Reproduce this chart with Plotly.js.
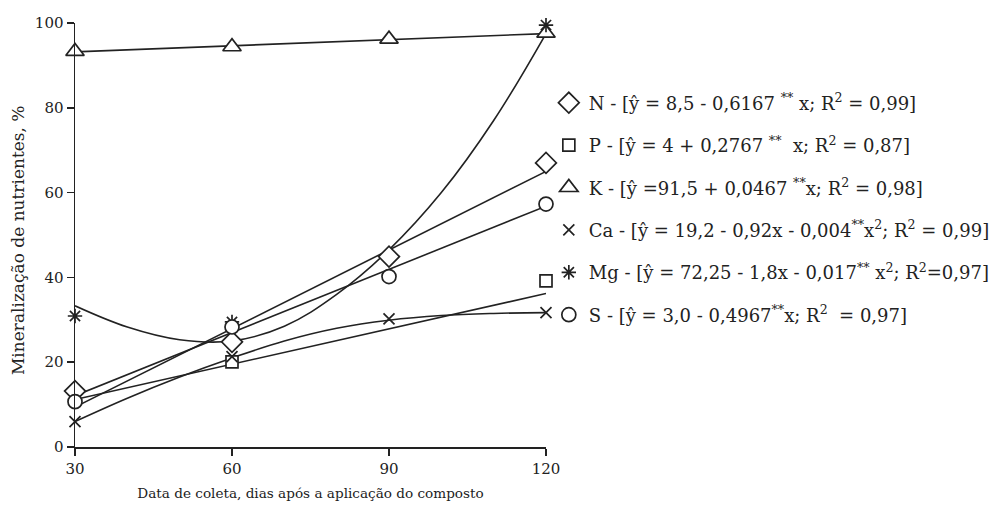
<!DOCTYPE html>
<html>
<head>
<meta charset="utf-8">
<script src="https://cdn.plot.ly/plotly-3.0.1.min.js"></script>
<style>html,body{margin:0;padding:0;background:#fff;}#chart{width:1003px;height:508px;}</style>
</head>
<body>
<div id="chart"></div>
<script>
// Observed data (days after compost application)
const days = [30, 60, 90, 120];
const N  = [13.2, 24.8, 44.9, 67.0];
const P  = [null, 20.1, null, 39.2];
const K  = [93.3, 94.4, 96.2, 97.6];
const Ca = [6.0, 21.3, 30.2, 31.7];
const Mg = [30.9, 29.5, null, 99.5];
const S  = [10.7, 28.3, 40.2, 57.3];

// Fitted lines
const fitDaysLin = [30, 120];
const N_fit = [9.4, 65.0];
const P_fit = [11.2, 36.2];
const K_fit = [93.2, 97.5];
const S_fit = [12.1, 56.8];
const fitDaysCurve = [30, 40, 50, 60, 70, 80, 90, 100, 110, 120];
const Ca_fit = [6.0, 11.5, 16.5, 21.0, 25.0, 28.0, 29.9, 31.0, 31.5, 31.7];
const Mg_fit = [33.3, 28.3, 25.3, 25.0, 28.5, 36.0, 46.5, 60.0, 77.0, 97.5];

const legendNames = [
  "N - [ŷ = 8,5 - 0,6167 <sup>**</sup> x; R<sup>2</sup> = 0,99]",
  "P - [ŷ = 4 + 0,2767 <sup>**</sup>  x; R<sup>2</sup> = 0,87]",
  "K - [ŷ =91,5 + 0,0467 <sup>**</sup>x; R<sup>2</sup> = 0,98]",
  "Ca - [ŷ = 19,2 - 0,92x - 0,004<sup>**</sup>x<sup>2</sup>; R<sup>2</sup> = 0,99]",
  "Mg - [ŷ = 72,25 - 1,8x - 0,017<sup>**</sup> x<sup>2</sup>; R<sup>2</sup>=0,97]",
  "S - [ŷ = 3,0 - 0,4967<sup>**</sup>x; R<sup>2</sup>  = 0,97]"
];
const yTitle = 'Mineralização de nutrientes, %';
const xTitle = 'Data de coleta, dias após a aplicação do composto';

const ink = '#222';
const lineStyle = {color: ink, width: 1.6};
const traces = [];

function fit(x, y, shape) {
  traces.push({x: x, y: y, mode: 'lines', line: Object.assign({shape: shape || 'linear', smoothing: 1.1}, lineStyle),
    showlegend: false, hoverinfo: 'skip', cliponaxis: false});
}
fit(fitDaysLin, N_fit);
fit(fitDaysLin, P_fit);
fit(fitDaysLin, K_fit);
fit(fitDaysLin, S_fit);
fit(fitDaysCurve, Ca_fit, 'spline');
fit(fitDaysCurve, Mg_fit, 'spline');

function pts(y, name, symbol, size, group) {
  traces.push({x: days, y: y, mode: 'markers', name: name, legendgroup: group,
    marker: {symbol: symbol, size: size, color: '#fff', line: {color: ink, width: 1.7}},
    cliponaxis: false});
}
pts(N, legendNames[0], 'diamond', 16, 'a');
pts(P, legendNames[1], 'square', 12, 'b');
pts(K, legendNames[2], 'triangle-up', 16, 'c');
pts(Ca, legendNames[3], 'x-thin', 11, 'd');
pts(Mg, legendNames[4], 'asterisk', 12, 'e');
pts(S, legendNames[5], 'circle', 14, 'f');

const font = {family: 'DejaVu Serif, serif', color: ink};

const layout = {
  width: 1003, height: 508,
  margin: {l: 75, r: 457, t: 23, b: 61, autoexpand: false},
  paper_bgcolor: '#fff', plot_bgcolor: '#fff',
  font: Object.assign({size: 14}, font),
  showlegend: true,
  legend: {x: 1.006, y: 0.855, xanchor: 'left', yanchor: 'top', traceorder: 'grouped',
    tracegroupgap: 16, font: Object.assign({size: 18}, font), bgcolor: 'rgba(0,0,0,0)'},
  xaxis: {range: [30, 120], tickvals: [30, 60, 90, 120], ticks: 'outside', ticklen: 7, tickwidth: 1.5,
    tickcolor: ink, showline: true, linecolor: ink, linewidth: 1.5, showgrid: false, zeroline: false,
    tickfont: Object.assign({size: 15}, font),
    title: {text: xTitle, font: Object.assign({size: 13.6}, font), standoff: 12}},
  yaxis: {range: [0, 100], tickvals: [0, 20, 40, 60, 80, 100], ticks: 'outside', ticklen: 7, tickwidth: 1.5,
    tickcolor: ink, showline: true, linecolor: ink, linewidth: 1.5, showgrid: false, zeroline: false,
    tickfont: Object.assign({size: 15}, font), ticksuffix: '\u2002'},
  annotations: [{text: yTitle, xref: 'paper', yref: 'paper', x: -0.121, y: 0.488, textangle: -90,
    showarrow: false, xanchor: 'center', yanchor: 'middle', font: Object.assign({size: 17}, font)}]
};

Plotly.newPlot('chart', traces, layout, {staticPlot: true, displayModeBar: false});
</script>
</body>
</html>
